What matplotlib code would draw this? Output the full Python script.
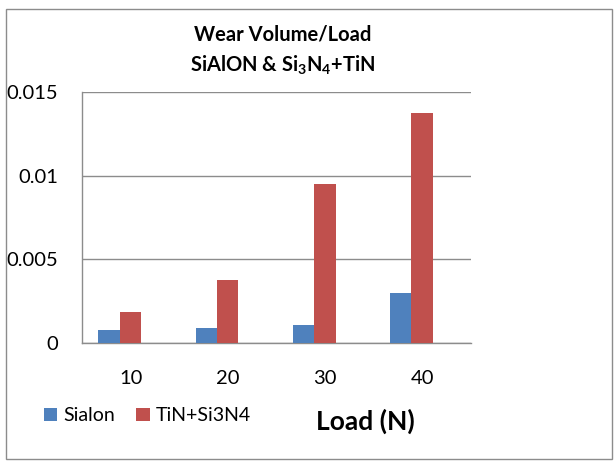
import numpy as np
import matplotlib
matplotlib.use("Agg")
import matplotlib.pyplot as plt
from matplotlib.patches import Rectangle

# data
loads = ["10", "20", "30", "40"]
sialon = [0.0008, 0.0009, 0.0011, 0.0030]
tin_si3n4 = [0.0019, 0.0038, 0.0095, 0.0137]
yticks = [0, 0.005, 0.01, 0.015]
ytick_labels = ["0", "0.005", "0.01", "0.015"]

plt.rcParams['font.family'] = ['Lato', 'DejaVu Sans']
plt.rcParams['mathtext.fontset'] = 'custom'
plt.rcParams['mathtext.rm'] = 'Lato'
plt.rcParams['mathtext.bf'] = 'Lato:bold'

fig = plt.figure(figsize=(6.15, 4.61), dpi=100)
ax = fig.add_axes([0.1333, 0.2549, 0.632, 0.5466])

# outer chart border
fig.patches.append(Rectangle((0.009, 0.005), 0.986, 0.975, transform=fig.transFigure,
                             fill=False, edgecolor='#8c8c8c', linewidth=1.0))

x = np.arange(len(loads))
w = 0.22
ax.bar(x - 0.22, sialon, width=w, color='#4F81BD', label='Sialon', zorder=3)
ax.bar(x, tin_si3n4, width=w, color='#C0504D', label='TiN+Si3N4', zorder=3)

ax.set_xlim(-0.5, 3.5)
ax.set_ylim(0, 0.015)
ax.set_xticks(x)
ax.set_xticklabels(loads, fontsize=14.5)
ax.set_yticks(yticks)
ax.set_yticklabels(ytick_labels, fontsize=14.5)
ax.tick_params(axis='y', length=0, pad=17)
ax.tick_params(axis='x', length=0, pad=19)

ax.grid(axis='y', color='#8c8c8c', linewidth=1.0, zorder=0)
for s in ['top', 'right']:
    ax.spines[s].set_visible(False)
for s in ['left', 'bottom']:
    ax.spines[s].set_color('#8c8c8c')
    ax.spines[s].set_linewidth(1.0)

fig.text(0.46, 0.925, "Wear Volume/Load", ha='center', va='center',
         fontsize=14.5, fontweight='bold')
fig.text(0.46, 0.858, r"SiAlON & Si$_\mathbf{3}$N$_\mathbf{4}$+TiN", ha='center', va='center',
         fontsize=14.5, fontweight='bold')

fig.text(0.594, 0.085, "Load (N)", ha='center', va='center',
         fontsize=19, fontweight='bold')

leg = fig.legend(loc='center left', bbox_to_anchor=(0.055, 0.098), ncol=2,
                 frameon=False, fontsize=14, handlelength=0.7, handleheight=0.7,
                 handletextpad=0.3, columnspacing=1.1, borderpad=0)

fig.savefig("out.png", dpi=100)
